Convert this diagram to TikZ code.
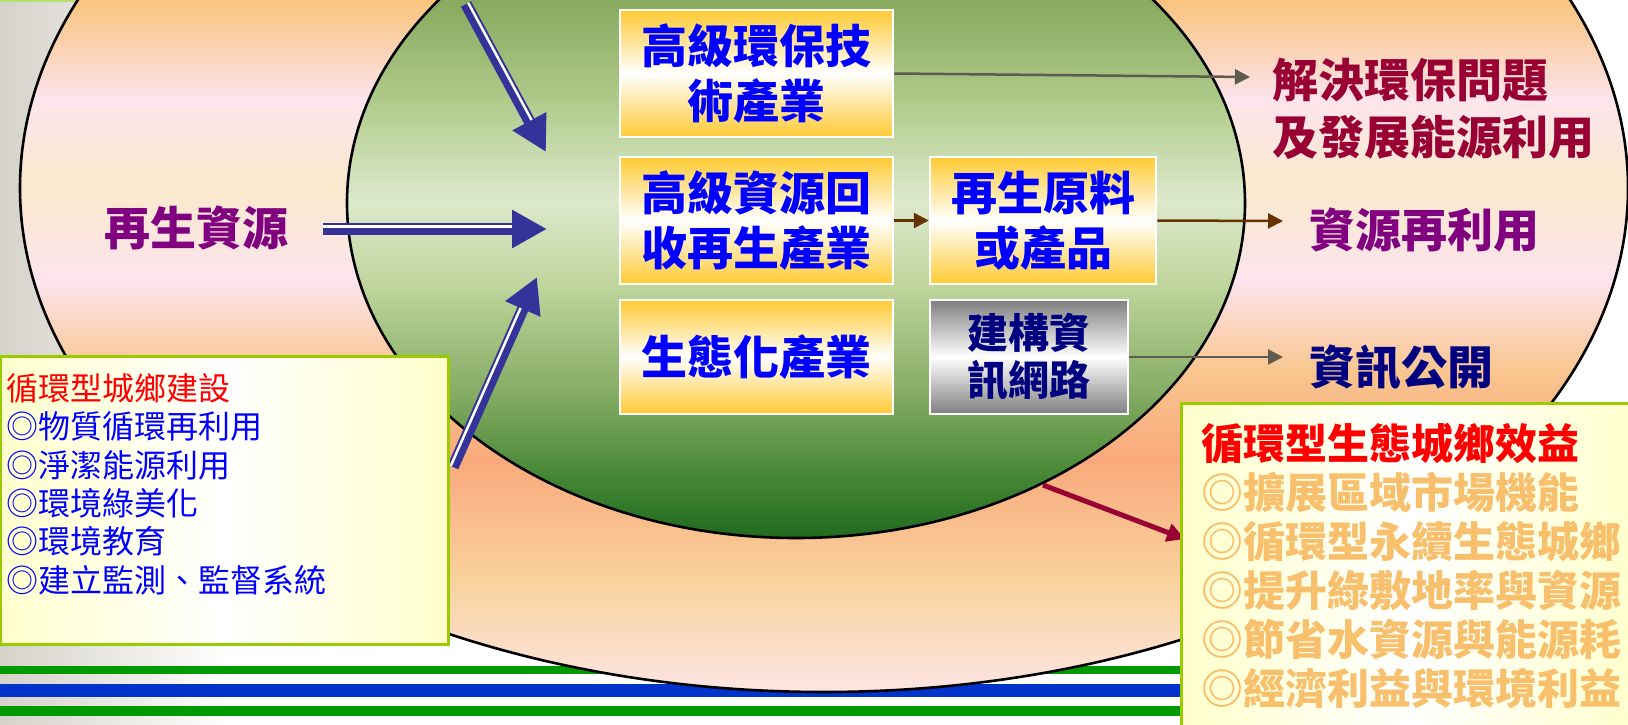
\documentclass[tikz,border=0pt]{standalone}
\usepackage{fontspec}
\newfontfamily\cjk{Noto Sans CJK TC}
\usetikzlibrary{arrows.meta,calc}
\definecolor{bgL}{HTML}{D5D2C9}
\definecolor{topln}{HTML}{B8E070}
\definecolor{stripeG}{HTML}{009900}
\definecolor{stripeB}{HTML}{0033CC}
\definecolor{oA}{HTML}{F7B870}
\definecolor{oB}{HTML}{F9C37C}
\definecolor{oC}{HTML}{FDE4EE}
\definecolor{oD}{HTML}{FAE9CB}
\definecolor{oE}{HTML}{FDE4EE}
\definecolor{oF}{HTML}{F9C690}
\definecolor{oG}{HTML}{F9A97C}
\definecolor{oH}{HTML}{F9D29C}
\definecolor{oI}{HTML}{FDE6E8}
\definecolor{gA}{HTML}{4F8A38}
\definecolor{gB}{HTML}{86AA5E}
\definecolor{gC}{HTML}{AFCA8A}
\definecolor{gD}{HTML}{DDE9CD}
\definecolor{gE}{HTML}{BDD49A}
\definecolor{gF}{HTML}{80A960}
\definecolor{gG}{HTML}{4A8A38}
\definecolor{gH}{HTML}{1B661B}
\definecolor{gold}{HTML}{FFCA33}
\definecolor{boxgray}{HTML}{7F7F7F}
\definecolor{arrowblue}{HTML}{333399}
\definecolor{arrowgray}{HTML}{5F5B4F}
\definecolor{arrowbrown}{HTML}{663300}
\definecolor{arrowred}{HTML}{990033}
\definecolor{purp}{HTML}{800080}
\definecolor{wine}{HTML}{990033}
\definecolor{navy}{HTML}{000080}
\definecolor{frameG}{HTML}{99CC00}
\definecolor{paleY}{HTML}{FFFFCC}
\definecolor{itemO}{HTML}{F8C06C}
\begin{document}
\begin{tikzpicture}[x=0.5pt,y=-0.5pt,
  goldbox/.style={rectangle, draw=white, line width=1.25pt, top color=gold, bottom color=gold, middle color=white,
     text=blue, align=center, inner sep=0pt, font=\cjk\bfseries\fontsize{23}{27.5}\selectfont},
  graybox/.style={rectangle, draw=white, line width=1.25pt, top color=boxgray, bottom color=boxgray, middle color=white,
     text=navy, align=center, inner sep=0pt, font=\cjk\bfseries\fontsize{20.5}{23.5}\selectfont},
  bigarrow/.style={draw=arrowblue, line width=5.75pt, -{Triangle[length=17.5pt,width=18pt]}},
  gapline/.style={draw=white, line width=1.25pt},
  grayarrow/.style={draw=arrowgray, line width=1.25pt, -{Triangle[length=7.5pt,width=7.5pt]}},
  brownarrow/.style={draw=arrowbrown, line width=1.25pt, -{Triangle[length=7.5pt,width=7.5pt]}},
  redarrow/.style={draw=arrowred, line width=2.5pt, -{Triangle[length=9pt,width=9pt]}},
  yellowbox/.style={rectangle, draw=frameG, line width=1.5pt, left color=paleY, right color=paleY, middle color=white, inner sep=0pt},
  outtext/.style={inner sep=0pt, font=\cjk\bfseries\fontsize{23}{28.5}\selectfont, align=left}
]
\useasboundingbox (0,0) rectangle (1628,724);
\clip (0,0) rectangle (1628,724);
% background
\fill[white] (0,0) rectangle (1628,724);
\shade[left color=bgL, right color=white] (0,0) rectangle (230,724);
\draw[topln, line width=1pt] (0,1) -- (548,1);
% stripes
\fill[stripeG] (0,666) rectangle (1300,674);
\fill[stripeB] (0,684) rectangle (1300,697);
\fill[stripeG] (0,706) rectangle (1300,716);
% outer ellipse
\begin{scope}
  \clip (824,188) ellipse [x radius=804, y radius=504];
  \foreach \ya/\ca/\yb/\cb in {-320/oA/0/oB, 0/oB/100/oC, 100/oC/185/oD, 185/oD/280/oE, 280/oE/370/oF, 370/oF/460/oG, 460/oG/580/oH, 580/oH/700/oI}
    {\shade[top color=\ca, bottom color=\cb] (0,{\ya-1}) rectangle (1628,{\yb+1});}
\end{scope}
\draw[line width=1.3pt] (824,188) ellipse [x radius=804, y radius=504];
% inner ellipse
\begin{scope}
  \clip (796,203) ellipse [x radius=449, y radius=335];
  \foreach \ya/\ca/\yb/\cb in {-140/gA/0/gB, 0/gB/100/gC, 100/gC/200/gD, 200/gD/290/gE, 290/gE/400/gF, 400/gF/470/gG, 470/gG/545/gH}
    {\shade[top color=\ca, bottom color=\cb] (300,{\ya-1}) rectangle (1300,{\yb+1});}
\end{scope}
\draw[line width=1.3pt] (796,203) ellipse [x radius=449, y radius=335];
% boxes
\node[goldbox, minimum width=136.5pt, minimum height=63.5pt] (b1) at (756.5,73.5) {高級環保技\\術產業};
\node[goldbox, minimum width=136.5pt, minimum height=63.5pt] (b2) at (756.5,220.5) {高級資源回\\收再生產業};
\node[goldbox, minimum width=136.5pt, minimum height=57pt] (b3) at (756.5,357) {生態化產業};
\node[goldbox, minimum width=113pt, minimum height=63.5pt] (b4) at (1043,220.5) {再生原料\\或產品};
\node[graybox, minimum width=99pt, minimum height=57pt] (b5) at (1029,357) {建構資\\訊網路};
% thin arrows
\coordinate (t1) at (1250,77);
\coordinate (t2) at (1283,221);
\coordinate (t3) at (1283,357);
\draw[grayarrow] (b1.east) -- (t1);
\draw[brownarrow] (b2.east) -- (b4.west);
\draw[brownarrow] (b4.east) -- (t2);
\draw[grayarrow] (b5.east) -- (t3);
% red arrow
\coordinate (r1) at (1043,485);
\coordinate (r2) at (1185,539);
\draw[redarrow] (r1) -- (r2);
% big blue arrows
\coordinate (a1s) at (466,4);   \coordinate (a1t) at (546,152);
\coordinate (a2s) at (323,229); \coordinate (a2t) at (547,229);
\coordinate (a3s) at (453,467); \coordinate (a3t) at (537,277);
\foreach \n in {1,2,3}{
  \draw[bigarrow] (a\n s) -- (a\n t);
  \coordinate (a\n h) at ($(a\n t)!17.5pt!(a\n s)$);
  \draw[gapline] ($(a\n s)!1.25pt!90:(a\n t)$) -- ($(a\n h)!1.25pt!-90:(a\n s)$);
}
% left box
\node[yellowbox, minimum width=224pt, minimum height=144pt] (lb) at (224,500) {};
\node[anchor=base west, align=left, inner sep=0pt, text=blue, font=\cjk\fontsize{16}{19.15}\selectfont] (lt) at (6,592)
  {\textcolor{red}{循環型城鄉建設}\\◎物質循環再利用\\◎淨潔能源利用\\◎環境綠美化\\◎環境教育\\◎建立監測、監督系統};
% right box
\node[yellowbox, minimum width=229.5pt, minimum height=168.5pt] (rb) at (1410.5,571.5) {};
\node[anchor=base west, align=left, inner sep=0pt, text=itemO, font=\cjk\bfseries\fontsize{21}{24.5}\selectfont] (rt) at (1201,704)
  {\textcolor{red}{循環型生態城鄉效益}\\◎擴展區域市場機能\\◎循環型永續生態城鄉\\◎提升綠敷地率與資源\\◎節省水資源與能源耗\\◎經濟利益與環境利益};
% outside texts
\node[outtext, text=purp] (src) at (196,228) {再生資源};
\node[outtext, text=wine, anchor=west] (o1) at (1272,108.5) {解決環保問題\\及發展能源利用};
\node[outtext, text=purp, anchor=west] (o2) at (1309,230) {資源再利用};
\node[outtext, text=navy, anchor=west] (o3) at (1309,367) {資訊公開};
\end{tikzpicture}
\end{document}
